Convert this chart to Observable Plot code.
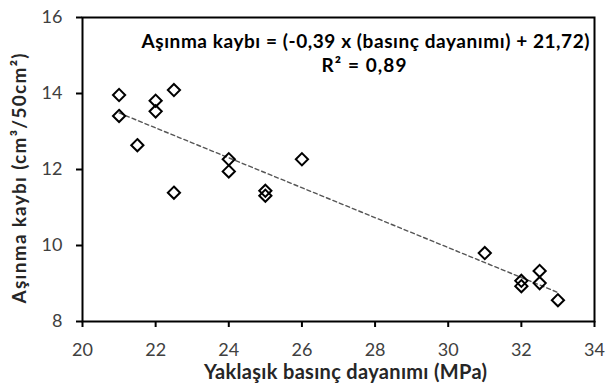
<!DOCTYPE html>
<html>
<head>
<meta charset="utf-8">
<script src="https://cdn.jsdelivr.net/npm/d3@7"></script>
<script src="https://cdn.jsdelivr.net/npm/@observablehq/plot@0.6"></script>
<style>
  html, body { margin: 0; padding: 0; background: #fff; }
</style>
</head>
<body>
<div id="chart"></div>
<script>
const pressure = [21, 21, 21.5, 22, 22, 22.5, 22.5, 24, 24, 25, 25, 26, 31, 32, 32, 32.5, 32.5, 33];
const wear     = [13.96, 13.41, 12.64, 13.81, 13.53, 14.09, 11.39, 12.27, 11.95, 11.44, 11.31, 12.27, 9.80, 9.07, 8.93, 9.33, 9.01, 8.56];
const xTicks = [20, 22, 24, 26, 28, 30, 32, 34];
const yTicks = [8, 10, 12, 14, 16];
const xTitle = "Yaklaşık basınç dayanımı (MPa)";
const yTitle = "Aşınma kaybı (cm³/50cm²)";
const equation = "Aşınma kaybı = (-0,39 x (basınç dayanımı) + 21,72)";
const rSquared = "R² = 0,89";

const data = pressure.map((p, i) => ({p, w: wear[i]}));

const chart = Plot.plot({
  width: 606,
  height: 387,
  marginLeft: 82,
  marginRight: 12,
  marginTop: 17,
  marginBottom: 66,
  style: {fontFamily: "Lato, 'Open Sans', sans-serif", background: "#fff", color: "#404040"},
  x: {domain: [20, 34]},
  y: {domain: [8, 16]},
  marks: [
    Plot.frame({stroke: "black", strokeWidth: 2}),
    Plot.axisX({ticks: xTicks, tickSize: 6, tickPadding: 16, stroke: "black", strokeWidth: 2, fontSize: 18, fill: "#404040", label: null}),
    Plot.axisY({ticks: yTicks, tickSize: 6, tickPadding: 14, stroke: "black", strokeWidth: 2, fontSize: 18, fill: "#404040", label: null}),
    Plot.linearRegressionY(data, {x: "p", y: "w", ci: 0, stroke: "#555", strokeWidth: 1.4, strokeDasharray: "4,3"}),
    Plot.dot(data, {x: "p", y: "w", symbol: "diamond2", r: 5.5, stroke: "black", strokeWidth: 2, fill: "none"}),
    Plot.text([equation], {frameAnchor: "top", text: d => d, dx: 27, dy: 24.6, fontSize: 19, fontWeight: "bold", fill: "black", lineAnchor: "middle", textAnchor: "middle"}),
    Plot.text([rSquared], {frameAnchor: "top", text: d => d, dx: 25.5, dy: 48.6, fontSize: 19, fontWeight: "bold", fill: "black", lineAnchor: "middle", textAnchor: "middle"}),
    Plot.text([xTitle], {frameAnchor: "bottom", text: d => d, dx: 7, dy: 51.2, fontSize: 20, fontWeight: "bold", fill: "#262626", lineAnchor: "middle", textAnchor: "middle"}),
    Plot.text([yTitle], {frameAnchor: "left", text: d => d, dx: -63, dy: 9, rotate: -90, fontSize: 19, fontWeight: "bold", fill: "#262626", lineAnchor: "middle", textAnchor: "middle"})
  ]
});
document.getElementById("chart").appendChild(chart);

// match the rendered widths of the annotation texts to the reference
const targetWidths = new Map([[equation, 448], [rSquared, 85], [xTitle, 283], [yTitle, 250]]);
d3.select(chart).selectAll("text").each(function() {
  const w = targetWidths.get(this.textContent);
  if (w) {
    this.setAttribute("textLength", w);
    this.setAttribute("lengthAdjust", "spacing");
  }
});
</script>
</body>
</html>
